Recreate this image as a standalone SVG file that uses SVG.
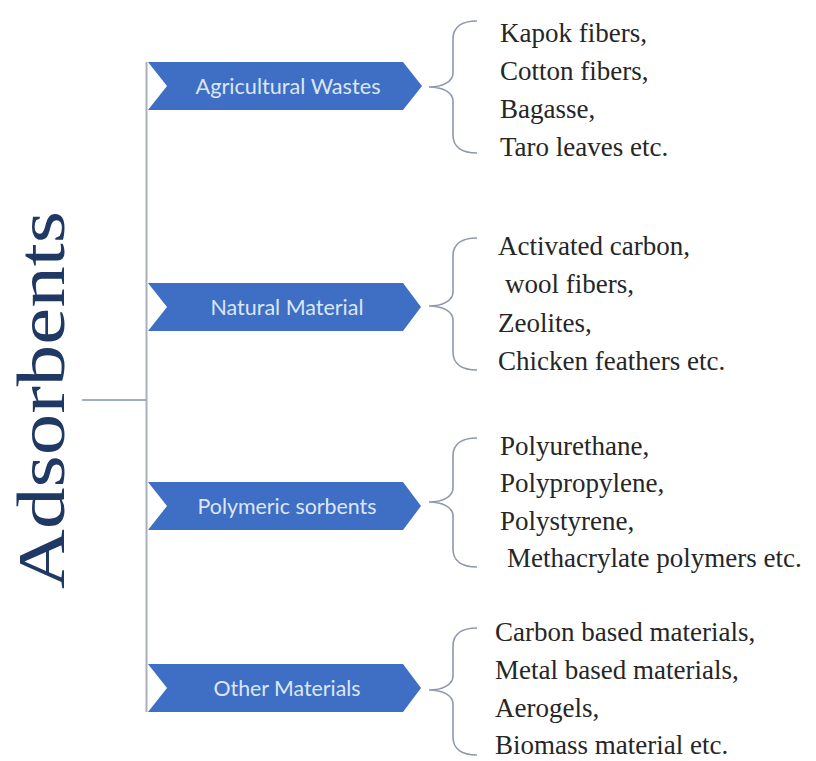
<svg xmlns="http://www.w3.org/2000/svg" width="816" height="761" viewBox="0 0 816 761">
<style>
.chev{fill:#3e6fc5;}
.clab{font-family:Lato,"Open Sans",sans-serif;font-size:22px;fill:#dce6f6;text-anchor:middle;}
.item{font-family:"Liberation Serif","DejaVu Serif",serif;font-size:27px;fill:#262626;}
.brace{fill:none;stroke:#8e98ab;stroke-width:1.6;}
.trunk{stroke:#a9b0bb;stroke-width:2;fill:none;}
.title{font-family:"Liberation Serif","DejaVu Serif",serif;font-size:68px;fill:#1f3864;text-anchor:middle;}
</style>
<rect width="816" height="761" fill="#ffffff"/>
<g id="title">
<text class="title" transform="translate(64,400) rotate(-90)" textLength="378" lengthAdjust="spacingAndGlyphs">Adsorbents</text>
</g>
<g id="connectors">
<line class="trunk" x1="146.5" y1="62" x2="146.5" y2="712"/>
<line x1="82" y1="400" x2="146" y2="400" stroke="#7f93b0" stroke-width="1.5"/>
<path class="brace" d="M477,21 C462,21 453,27 453,39 L453,73 C453,82 442,87 429,87 C442,87 453,92 453,101 L453,135 C453,147 462,153 477,153"/>
<path class="brace" d="M477,238 C462,238 453,244 453,256 L453,292 C453,301 442,306 429,306 C442,306 453,311 453,320 L453,352 C453,364 462,370 477,370"/>
<path class="brace" d="M477,438 C462,438 453,444 453,456 L453,488 C453,497 442,502 429,502 C442,502 453,507 453,516 L453,549 C453,561 462,567 477,567"/>
<path class="brace" d="M477,628 C462,628 453,634 453,646 L453,676 C453,685 442,690 429,690 C442,690 453,695 453,704 L453,737 C453,749 462,755 477,755"/>
</g>
<g id="node-agricultural">
<polygon class="chev" points="148,62 403,62 422,86 403,110 148,110 167,86"/>
<text class="clab" x="288" y="93.5" textLength="185" lengthAdjust="spacingAndGlyphs">Agricultural  Wastes</text>
</g>
<g id="node-natural">
<polygon class="chev" points="148,283 403,283 421,307 403,331 148,331 167,307"/>
<text class="clab" x="287" y="314.5" textLength="153" lengthAdjust="spacingAndGlyphs">Natural Material</text>
</g>
<g id="node-polymeric">
<polygon class="chev" points="148,482 403,482 421,506 403,530 148,530 167,506"/>
<text class="clab" x="287" y="513.5" textLength="179" lengthAdjust="spacingAndGlyphs">Polymeric sorbents</text>
</g>
<g id="node-other">
<polygon class="chev" points="148,664 403,664 421,688 403,712 148,712 167,688"/>
<text class="clab" x="287" y="695.5" textLength="147" lengthAdjust="spacingAndGlyphs">Other Materials</text>
</g>
<g id="list-agricultural">
<text class="item" x="500" y="42">Kapok fibers,</text>
<text class="item" x="500" y="80">Cotton fibers,</text>
<text class="item" x="500" y="118">Bagasse,</text>
<text class="item" x="500" y="156">Taro leaves etc.</text>
</g>
<g id="list-natural">
<text class="item" x="498" y="255">Activated carbon,</text>
<text class="item" x="505" y="293">wool fibers,</text>
<text class="item" x="498" y="332">Zeolites,</text>
<text class="item" x="498" y="370">Chicken feathers etc.</text>
</g>
<g id="list-polymeric">
<text class="item" x="500" y="455">Polyurethane,</text>
<text class="item" x="500" y="492">Polypropylene,</text>
<text class="item" x="500" y="530">Polystyrene,</text>
<text class="item" x="507" y="567">Methacrylate polymers etc.</text>
</g>
<g id="list-other">
<text class="item" x="495" y="641">Carbon based materials,</text>
<text class="item" x="495" y="679">Metal based materials,</text>
<text class="item" x="495" y="717">Aerogels,</text>
<text class="item" x="495" y="754">Biomass material etc.</text>
</g>
</svg>
